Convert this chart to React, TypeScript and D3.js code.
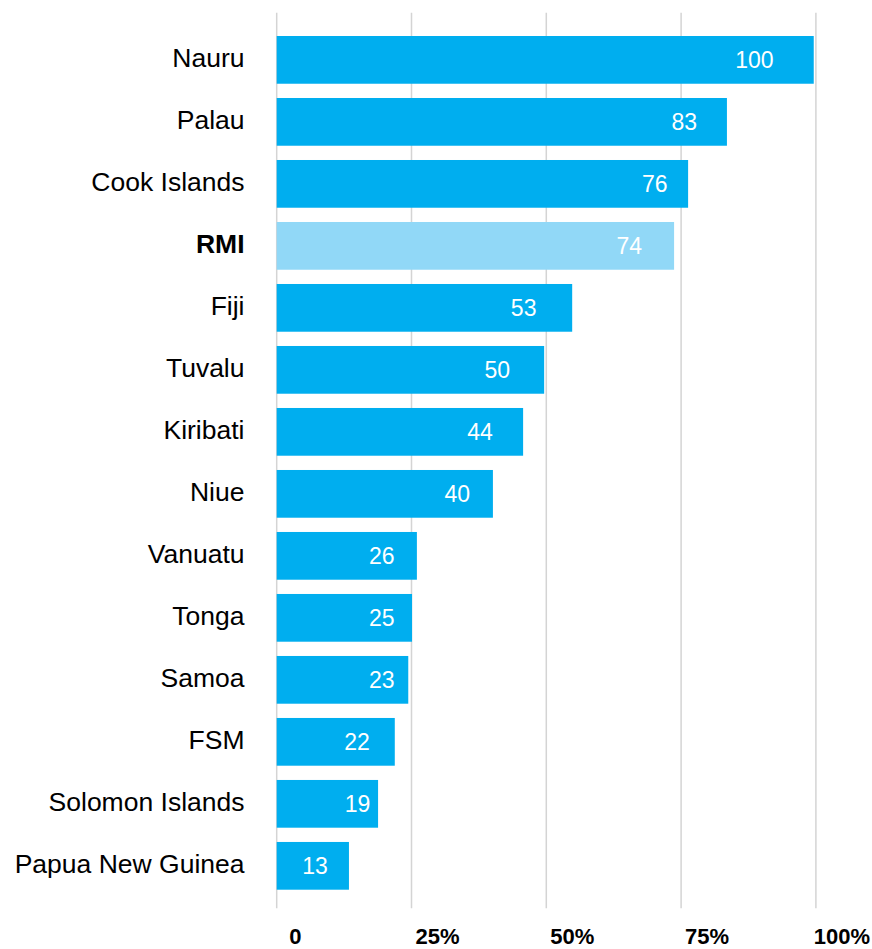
import React from "react";
import * as d3 from "d3";

const categories = [
  "Nauru", "Palau", "Cook Islands", "RMI", "Fiji", "Tuvalu", "Kiribati",
  "Niue", "Vanuatu", "Tonga", "Samoa", "FSM", "Solomon Islands", "Papua New Guinea",
];
// bar lengths (percent)
const barValues = [99.6, 83.5, 76.3, 73.7, 54.8, 49.6, 45.7, 40.1, 26.0, 25.1, 24.4, 21.9, 18.8, 13.4];
// printed labels
const valueLabels = ["100", "83", "76", "74", "53", "50", "44", "40", "26", "25", "23", "22", "19", "13"];
// where each printed label sits (percent units along the axis)
const labelAt = [88.6, 75.6, 70.1, 65.4, 45.8, 40.9, 37.7, 33.5, 19.5, 19.5, 19.5, 14.9, 15.0, 7.1];
const highlighted = ["RMI"];
const ticks = [0, 25, 50, 75, 100];
const tickLabels = ["0", "25%", "50%", "75%", "100%"];

const W = 872;
const H = 949;
const FONT = "'Liberation Sans', Arial, Helvetica, sans-serif";
const BAR = "#00AEEF";
const BAR_HI = "#91D8F7";
const GRID = "#d4d4d4";

export default function App() {
  const x = d3.scaleLinear().domain([0, 100]).range([276.7, 815.9]);
  const y = d3
    .scaleBand<string>()
    .domain(categories)
    .range([5, 920.7])
    .paddingInner(0.23)
    .paddingOuter(0.5);
  const bw = y.bandwidth();
  const gridTop = 12.7;
  const gridBottom = 908.3;

  return (
    <svg
      width={W}
      height={H}
      style={{ position: "absolute", left: 0, top: 0, background: "#fff" }}
      fontFamily={FONT}
    >
      <rect x={0} y={0} width={W} height={H} fill="#fff" />
      {ticks.map((t) => (
        <line
          key={"g" + t}
          x1={x(t)}
          x2={x(t)}
          y1={gridTop}
          y2={gridBottom}
          stroke={GRID}
          strokeWidth={1.5}
        />
      ))}
      {categories.map((c, i) => {
        const yy = y(c)!;
        const cy = yy + bw / 2;
        const hi = highlighted.includes(c);
        return (
          <g key={c}>
            <rect
              x={x(0)}
              y={yy}
              width={x(barValues[i]) - x(0)}
              height={bw}
              fill={hi ? BAR_HI : BAR}
            />
            <text
              x={244.5}
              y={cy + 7.3}
              textAnchor="end"
              fontSize={26.5}
              fontWeight={hi ? "bold" : "normal"}
              fill="#000"
            >
              {c}
            </text>
            <text
              x={x(labelAt[i])}
              y={cy + 8.2}
              textAnchor="middle"
              fontSize={23}
              fill="#fff"
            >
              {valueLabels[i]}
            </text>
          </g>
        );
      })}
      {ticks.map((t, i) => (
        <text
          key={"t" + t}
          x={x(t) + (t === 0 ? 18.6 : 26)}
          y={944}
          textAnchor="middle"
          fontSize={22}
          fontWeight="bold"
          fill="#000"
        >
          {tickLabels[i]}
        </text>
      ))}
    </svg>
  );
}
